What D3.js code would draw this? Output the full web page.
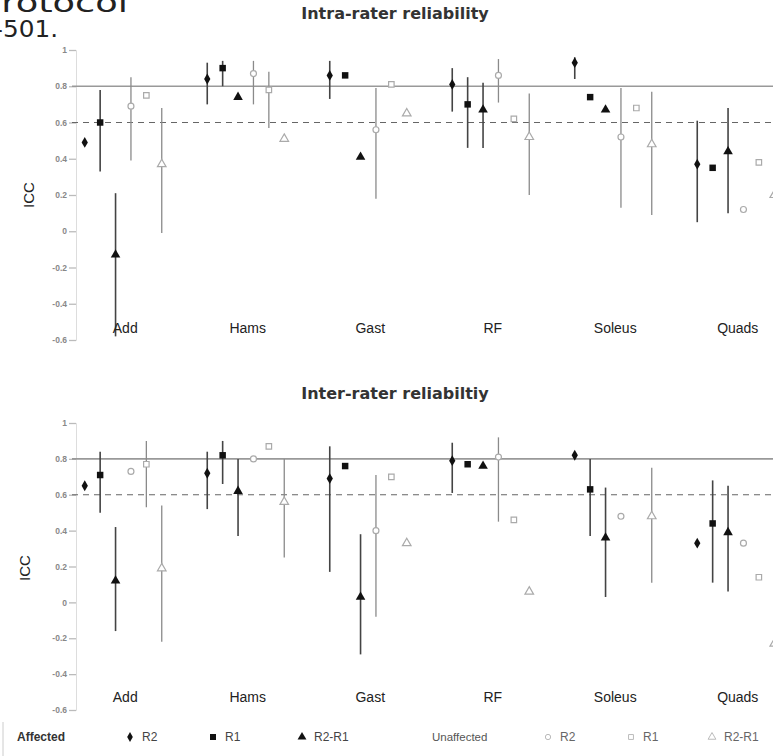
<!DOCTYPE html>
<html>
<head>
<meta charset="utf-8">
<script src="https://cdn.jsdelivr.net/npm/d3@7"></script>
<style>
body { margin: 0; background: #fff; }
svg { display: block; font-family: "Liberation Sans", Arial, sans-serif; }
</style>
</head>
<body>
<div id="wrapper" class="wrapper"></div>
<script>
const categories = ["Add", "Hams", "Gast", "RF", "Soleus", "Quads"]
const seriesKeys = ["aR2", "aR1", "aDiff", "uR2", "uR1", "uDiff"]
const seriesLabels = ["R2", "R1", "R2-R1", "R2", "R1", "R2-R1"]
const yTicks = [1, 0.8, 0.6, 0.4, 0.2, 0, -0.2, -0.4, -0.6]

// [ICC, lower CI, upper CI] for each muscle, null = no interval shown
const intraAffR2   = [[0.49, null, null], [0.84, 0.70, 0.93], [0.86, 0.73, 0.94], [0.81, 0.66, 0.90], [0.93, 0.84, 0.96], [0.37, 0.05, 0.61]]
const intraAffR1   = [[0.60, 0.33, 0.78], [0.90, 0.80, 0.94], [0.86, null, null], [0.70, 0.46, 0.85], [0.74, null, null], [0.35, null, null]]
const intraAffDiff = [[-0.13, -0.58, 0.21], [0.74, null, null], [0.41, null, null], [0.67, 0.46, 0.82], [0.67, null, null], [0.44, 0.10, 0.68]]
const intraUnR2    = [[0.69, 0.39, 0.85], [0.87, 0.70, 0.94], [0.56, 0.18, 0.79], [0.86, 0.71, 0.95], [0.52, 0.13, 0.79], [0.12, null, null]]
const intraUnR1    = [[0.75, null, null], [0.78, 0.57, 0.88], [0.81, null, null], [0.62, null, null], [0.68, null, null], [0.38, null, null]]
const intraUnDiff  = [[0.37, -0.01, 0.68], [0.51, null, null], [0.65, null, null], [0.52, 0.20, 0.76], [0.48, 0.09, 0.77], [0.20, -0.32, 0.50]]

const interAffR2   = [[0.65, null, null], [0.72, 0.52, 0.84], [0.69, 0.17, 0.87], [0.79, 0.61, 0.89], [0.82, null, null], [0.33, null, null]]
const interAffR1   = [[0.71, 0.50, 0.84], [0.82, 0.66, 0.90], [0.76, null, null], [0.77, null, null], [0.63, 0.37, 0.80], [0.44, 0.11, 0.68]]
const interAffDiff = [[0.12, -0.16, 0.42], [0.62, 0.37, 0.80], [0.03, -0.29, 0.38], [0.76, null, null], [0.36, 0.03, 0.64], [0.39, 0.06, 0.65]]
const interUnR2    = [[0.73, null, null], [0.80, null, null], [0.40, -0.08, 0.71], [0.81, 0.45, 0.92], [0.48, null, null], [0.33, null, null]]
const interUnR1    = [[0.77, 0.53, 0.90], [0.87, null, null], [0.70, null, null], [0.46, null, null], [null, null, null], [0.14, null, null]]
const interUnDiff  = [[0.19, -0.22, 0.54], [0.56, 0.25, 0.80], [0.33, null, null], [0.06, null, null], [0.48, 0.11, 0.75], [-0.23, -0.58, 0.14]]

const width = 773
const height = 756

const svg = d3.select("#wrapper")
    .append("svg")
        .attr("width", width)
        .attr("height", height)

// bit of the page text above the figure (cut off in the scan)
svg.append("text")
    .attr("x", -22).attr("y", 12)
    .attr("textLength", 150).attr("lengthAdjust", "spacingAndGlyphs")
    .style("font-family", "'DejaVu Sans', sans-serif")
    .style("font-size", "27px").style("fill", "#222")
    .text("protocol")
svg.append("text")
    .attr("x", -6).attr("y", 37)
    .attr("textLength", 64).attr("lengthAdjust", "spacingAndGlyphs")
    .style("font-family", "'DejaVu Sans', sans-serif")
    .style("font-size", "23px").style("fill", "#222")
    .text("-501.")

const xScale = d3.scaleBand()
    .domain(categories)
    .range([62, 797])

const seriesScale = d3.scalePoint()
    .domain(seriesKeys)
    .range([-38.5, 38.5])

const symbolFor = {
    aR2: d3.symbolDiamond, aR1: d3.symbolSquare, aDiff: d3.symbolTriangle,
    uR2: d3.symbolCircle, uR1: d3.symbolSquare, uDiff: d3.symbolTriangle,
}
const sizeFor = { aR2: 34, aR1: 42, aDiff: 40, uR2: 28, uR1: 30, uDiff: 32 }

const panels = [
    {
        title: "Intra-rater reliability", titleY: 19, range: [340, 50], labelY: 333, iccY: 195, iccX: 34,
        series: { aR2: intraAffR2, aR1: intraAffR1, aDiff: intraAffDiff, uR2: intraUnR2, uR1: intraUnR1, uDiff: intraUnDiff },
    },
    {
        title: "Inter-rater reliabiltiy", titleY: 399, range: [710, 423], labelY: 702, iccY: 568, iccX: 30,
        series: { aR2: interAffR2, aR1: interAffR1, aDiff: interAffDiff, uR2: interUnR2, uR1: interUnR1, uDiff: interUnDiff },
    },
]

const axisX = 76

panels.forEach(p => {
    const yScale = d3.scaleLinear().domain([-0.6, 1]).range(p.range)
    const g = svg.append("g")

    g.append("text")
        .attr("x", 395).attr("y", p.titleY)
        .attr("text-anchor", "middle")
        .style("font-family", "'DejaVu Sans', sans-serif")
        .style("font-weight", "bold").style("font-size", "16px").style("fill", "#333")
        .text(p.title)

    g.append("text")
        .attr("transform", `translate(${p.iccX},${p.iccY}) rotate(-90)`)
        .attr("text-anchor", "middle")
        .style("font-size", "15px").style("fill", "#222")
        .text("ICC")

    // y axis
    const yAxisGenerator = d3.axisLeft(yScale)
        .tickValues(yTicks)
        .tickSize(7)
        .tickFormat(d => String(d))
    const yAxis = g.append("g")
        .attr("transform", `translate(${axisX},0)`)
        .call(yAxisGenerator)
    yAxis.select(".domain").attr("stroke", "#ddd")
    yAxis.selectAll(".tick line").attr("stroke", "#bbb").attr("stroke-width", 1.3)
    yAxis.selectAll(".tick text")
        .attr("x", -9)
        .style("font-size", "8.5px").style("font-weight", "bold").style("fill", "#888")

    // reference lines
    g.append("line")
        .attr("x1", 72).attr("x2", width)
        .attr("y1", yScale(0.8)).attr("y2", yScale(0.8))
        .attr("stroke", "#999").attr("stroke-width", 1.6)
    g.append("line")
        .attr("x1", 72).attr("x2", width)
        .attr("y1", yScale(0.6)).attr("y2", yScale(0.6))
        .attr("stroke", "#666").attr("stroke-width", 1.1)
        .attr("stroke-dasharray", "6,5")

    // flatten to rows
    const rows = []
    seriesKeys.forEach(key => {
        p.series[key].forEach((v, i) => {
            if (v[0] == null) return
            rows.push({ key, cat: categories[i], icc: v[0], lo: v[1], hi: v[2] })
        })
    })
    const xAccessor = d => xScale(d.cat) + xScale.bandwidth() / 2 + seriesScale(d.key)
    const affected = d => d.key[0] === "a"

    g.append("g").selectAll("line")
        .data(rows.filter(d => d.lo != null))
        .join("line")
            .attr("x1", xAccessor).attr("x2", xAccessor)
            .attr("y1", d => yScale(d.hi)).attr("y2", d => yScale(d.lo))
            .attr("stroke", d => affected(d) ? "#444" : "#8a8a8a")
            .attr("stroke-width", d => affected(d) ? 1.6 : 1.3)

    g.append("g").selectAll("path")
        .data(rows)
        .join("path")
            .attr("transform", d => `translate(${xAccessor(d)},${yScale(d.icc)})`)
            .attr("d", d => d3.symbol(symbolFor[d.key], sizeFor[d.key])())
            .attr("fill", d => affected(d) ? "#111" : "#fff")
            .attr("stroke", d => affected(d) ? "none" : "#aaa")
            .attr("stroke-width", 1.2)

    // category labels
    g.append("g").selectAll("text")
        .data(categories)
        .join("text")
            .attr("x", d => xScale(d) + xScale.bandwidth() / 2 + 2)
            .attr("y", p.labelY)
            .attr("text-anchor", "middle")
            .style("font-size", "14px").style("fill", "#222")
            .text(d => d)
})

// legend
const legendY = 737
const legend = svg.append("g")
legend.append("line")
    .attr("x1", 3).attr("x2", 3).attr("y1", 722).attr("y2", 756)
    .attr("stroke", "#ccc")
legend.append("text")
    .attr("x", 17).attr("y", legendY + 4)
    .style("font-size", "12px").style("font-weight", "bold").style("fill", "#333")
    .text("Affected")
legend.append("text")
    .attr("x", 432).attr("y", legendY + 4)
    .style("font-size", "11.5px").style("fill", "#555")
    .text("Unaffected")

const legendX = [130, 213, 302, 548, 631, 712]
const legendItems = seriesKeys.map((key, i) => ({ key, label: seriesLabels[i], x: legendX[i] }))
const items = legend.selectAll(".item")
    .data(legendItems)
    .join("g")
        .attr("class", "item")
        .attr("transform", d => `translate(${d.x},${legendY})`)
items.append("path")
    .attr("d", d => d3.symbol(symbolFor[d.key], sizeFor[d.key] - 6)())
    .attr("fill", d => d.key[0] === "a" ? "#111" : "#fff")
    .attr("stroke", d => d.key[0] === "a" ? "none" : "#bbb")
items.append("text")
    .attr("x", 12).attr("y", 4)
    .style("font-size", "12px")
    .style("fill", d => d.key[0] === "a" ? "#444" : "#666")
    .text(d => d.label)
</script>
</body>
</html>
